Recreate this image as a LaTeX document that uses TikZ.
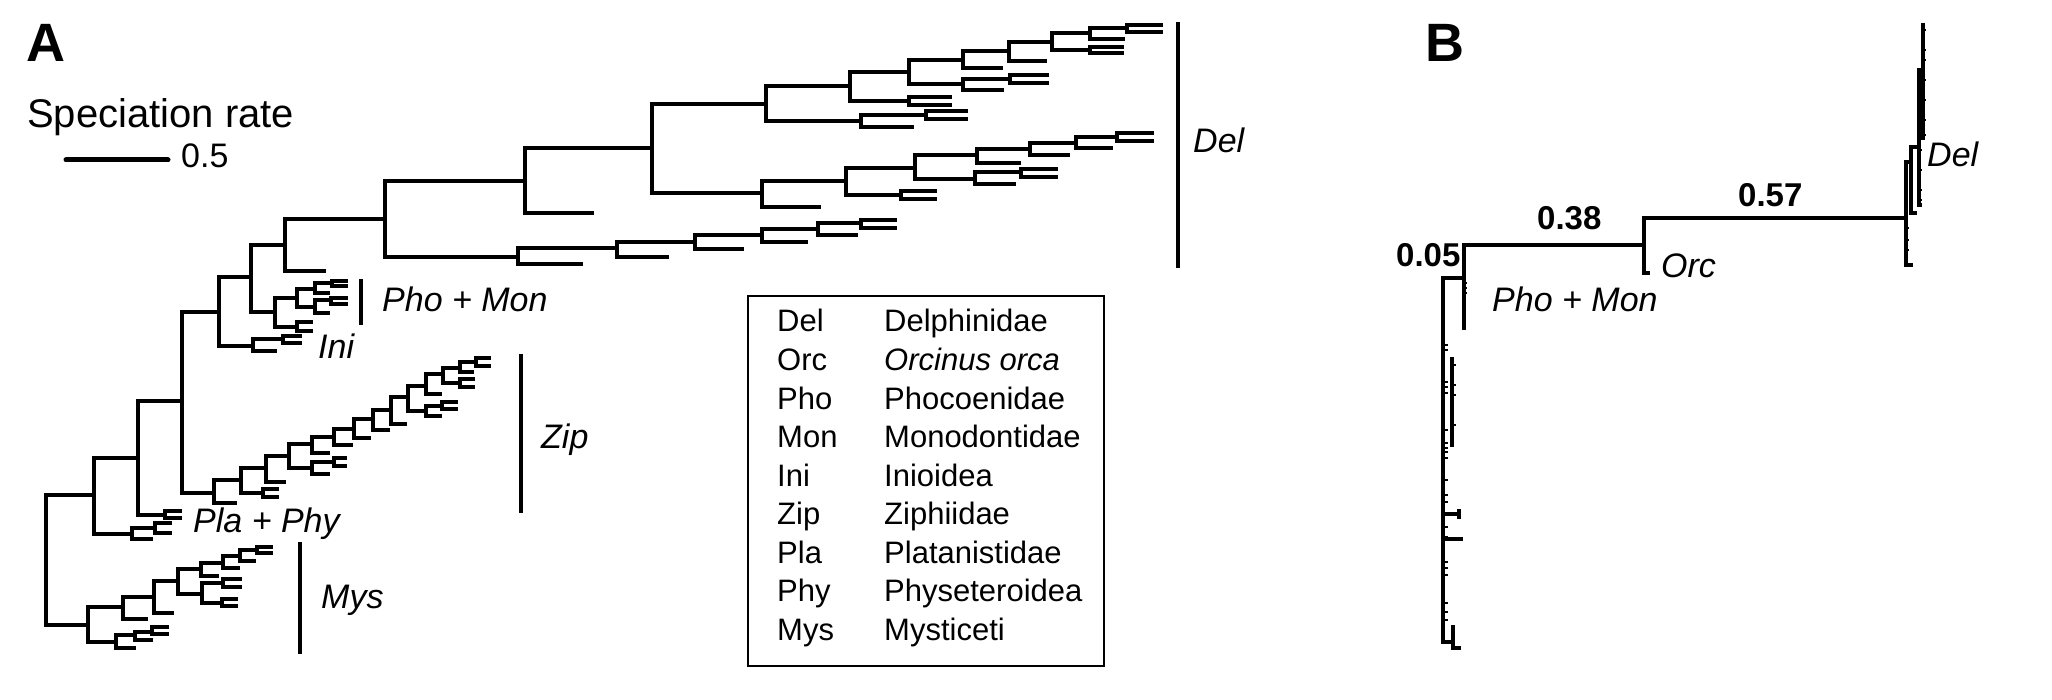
\documentclass[tikz,border=0pt]{standalone}
\usepackage{fontspec}
\setmainfont{Liberation Sans}
\begin{document}
\begin{tikzpicture}[x=1pt,y=-1pt,
    br/.style={line width=3.3pt},
    cladebar/.style={line width=4pt},
    clade/.style={font=\fontsize{34}{40}\selectfont\itshape, anchor=base west, inner sep=0pt},
    legtext/.style={font=\fontsize{31}{36}\selectfont, anchor=base west, inner sep=0pt},
    rate/.style={font=\fontsize{33}{38}\selectfont\bfseries, anchor=base west, inner sep=0pt},
    panel/.style={font=\fontsize{54}{60}\selectfont\bfseries, anchor=base west, inner sep=0pt}]
  \useasboundingbox (0,0) rectangle (2052,700);

  % panel A
  \node[panel] (pA) at (26,62) {A};
  \node[font=\fontsize{40}{44}\selectfont, anchor=base west, inner sep=0pt] (srate) at (27,128) {Speciation rate};
  \draw[line width=5pt, line cap=round] (66,160) -- (168,160);
  \node[font=\fontsize{34}{40}\selectfont, anchor=base west, inner sep=0pt] (sbar) at (181,168) {0.5};

  % tree A: x / top y / top child x / bottom y / bottom child x
  \foreach \x/\ya/\xa/\yb/\xb in {
      46/495/94/625/88, 94/458/138/534/132, 138/401/182/515/165,
      182/312/219/493/214, 219/277/251/346/253, 251/245/285/312/275,
      285/219/385/271/326, 385/181/525/257/518, 525/148/652/213/594,
      652/104/766/193/762, 766/86/850/121/861, 850/72/909/101/909,
      909/60/963/84/963, 963/51/1009/68/1003, 1009/42/1052/61/1047,
      1052/33/1090/50/1090, 1090/28/1127/39/1125, 1127/25/1163/32/1163,
      1090/47/1124/53/1124, 963/79/1010/90/1004, 1010/75/1049/83/1049,
      909/97/952/105/952, 861/115/926/127/914, 926/111/968/119/968,
      762/181/846/207/821, 846/168/915/195/901, 901/191/937/199/937,
      915/155/977/179/975, 977/149/1030/163/1021, 1030/143/1076/155/1070,
      1076/137/1117/148/1113, 1117/133/1154/141/1154, 975/172/1021/184/1016,
      1021/169/1058/177/1058, 518/248/617/264/583, 617/242/695/257/669,
      695/235/762/249/744, 762/229/818/242/808, 818/223/861/235/858,
      861/220/897/228/897,
      % Pho + Mon, Ini
      275/298/297/327/297, 297/289/315/307/315, 315/283/332/293/330,
      332/281/348/286/348, 315/300/331/313/330, 331/298/348/304/348,
      297/322/313/331/313, 253/339/283/351/277, 283/336/302/343/302,
      % Zip
      214/480/241/503/237, 241/468/266/493/263, 263/489/279/497/279,
      266/456/289/482/286, 289/444/312/468/312, 312/462/334/474/330,
      334/458/347/466/347, 312/437/334/453/330, 334/429/354/445/353,
      354/419/373/438/371, 373/410/391/430/390, 391/397/408/424/407,
      408/386/426/411/426, 426/406/442/416/442, 442/402/458/409/458,
      426/374/443/394/442, 443/368/460/383/460, 460/379/475/387/475,
      460/362/476/372/474, 476/358/491/366/491,
      % Pla + Phy
      165/511/182/518/182, 132/528/155/539/153, 155/523/172/533/172,
      % Mys
      88/607/123/642/116, 123/597/154/619/148, 154/581/178/613/174,
      178/569/201/594/202, 201/563/223/576/219, 223/556/240/568/240,
      240/550/257/561/256, 257/547/273/553/273, 202/583/223/603/222,
      223/579/242/587/242, 222/599/238/606/238, 116/635/135/648/136,
      135/632/152/640/153, 152/627/169/634/169}{
    \draw[br] (\xa,\ya) -- (\x,\ya) -- (\x,\yb) -- (\xb,\yb);
  }

  \draw[cladebar] (1178,22) -- (1178,268);
  \draw[cladebar] (361,279) -- (361,325);
  \draw[cladebar] (521,354) -- (521,513);
  \draw[cladebar] (300,542) -- (300,654);

  \node[clade] (delA) at (1193,153) {Del};
  \node[clade] (phomonA) at (382,312) {Pho + Mon};
  \node[clade] (ini) at (318,358) {Ini};
  \node[clade] (zip) at (541,448) {Zip};
  \node[clade] (plaphy) at (193,532) {Pla + Phy};
  \node[clade] (mys) at (321,608) {Mys};

  % key
  \draw[line width=2pt] (748,296) rectangle (1104,666);
  \foreach \ab/\nm [count=\i from 0] in {Del/Delphinidae, Orc/\textit{Orcinus orca},
      Pho/Phocoenidae, Mon/Monodontidae, Ini/Inioidea, Zip/Ziphiidae,
      Pla/Platanistidae, Phy/Physeteroidea, Mys/Mysticeti}{
    \node[legtext] (key\i) at (777,332+38.5*\i) {\ab};
    \node[legtext] (name\i) at (884,332+38.5*\i) {\nm};
  }

  % panel B
  \node[panel] (pB) at (1425,62) {B};
  \draw[br] (1464,330) -- (1464,245) -- (1644,245);
  \draw[br] (1650,273) -- (1644,273) -- (1644,218) -- (1906,218);
  \draw[br] (1913,265) -- (1906,265) -- (1906,162) -- (1911,162);
  \draw[br] (1917,213) -- (1911,213) -- (1911,147) -- (1919,147);
  \draw[br] (1922,205) -- (1919,205) -- (1919,70) -- (1923,70);
  \draw[br] (1923,23) -- (1923,140);
  \draw[br] (1464,278) -- (1443,278) -- (1443,642) -- (1453,642);
  \draw[br] (1455,627) -- (1453,627) -- (1453,648) -- (1461,648);
  \draw[br] (1452,357) -- (1452,447);
  \draw[br] (1443,514) -- (1459,514) (1459,509) -- (1459,519);
  \draw[br] (1443,539) -- (1463,539);
  \foreach \y in {345,350,382,387,393,430,443,448,452,458,480,495,502,527,537,562,568,575,603,612,620}{
    \draw[line width=2.5pt] (1443,\y) -- (1448,\y);
  }
  \foreach \y in {365,385,395,425}{
    \draw[line width=2.5pt] (1452,\y) -- (1456,\y);
  }
  \foreach \y in {283,288,293}{
    \draw[line width=2.5pt] (1464,\y) -- (1467,\y);
  }
  \foreach \y in {30,50,60,80,100,120,135}{
    \draw[line width=2.5pt] (1923,\y) -- (1926,\y);
  }
  \foreach \y in {90,115,130,150,170,190,200}{
    \draw[line width=2.5pt] (1919,\y) -- (1922,\y);
  }
  \foreach \y in {228,240,250}{
    \draw[line width=2.5pt] (1906,\y) -- (1909,\y);
  }

  \node[rate] (r05) at (1396,267) {0.05};
  \node[rate] (r38) at (1537,230) {0.38};
  \node[rate] (r57) at (1738,207) {0.57};
  \node[clade] (phomonB) at (1492,312) {Pho + Mon};
  \node[clade] (orc) at (1661,278) {Orc};
  \node[clade] (delB) at (1927,167) {Del};
\end{tikzpicture}
\end{document}
